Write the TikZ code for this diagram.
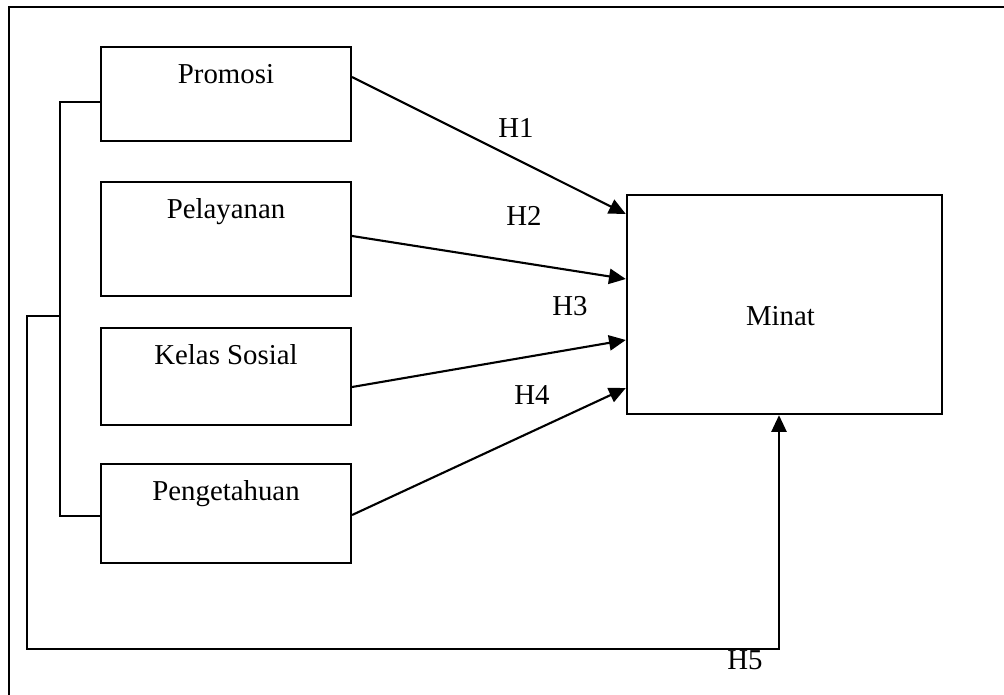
\documentclass[tikz,border=0pt]{standalone}
\usepackage{fontspec}
\setmainfont{Liberation Serif}
\usetikzlibrary{arrows.meta,positioning,calc}
\tikzset{varbox/.style = {draw=black, line width=1.5pt, minimum width=6.25cm, inner sep=0pt}}
\tikzset{boxtext/.style = {anchor=base, font=\fontsize{20.5}{24}\selectfont}}
\tikzset{line/.style = {draw=black, line width=1.5pt}}
\tikzset{arrow/.style = {line, -{Triangle[length=0.42cm,width=0.38cm]}}}

\begin{document}
\begin{tikzpicture}[x=0.025cm, y=-0.025cm]
	\useasboundingbox (0,0) rectangle (1004,695);
	% frame
	\draw[line] (9,695) -- (9,7) -- (1004,7);
	% variables
	\node[varbox, minimum height=2.35cm, label={[boxtext, yshift=-0.95cm]north:Promosi}] (promosi) at (226,94) {};
	\node[varbox, minimum height=2.85cm, label={[boxtext, yshift=-0.93cm]north:Pelayanan}] (pelayanan) at (226,239) {};
	\node[varbox, minimum height=2.43cm, label={[boxtext, yshift=-0.93cm]north:Kelas Sosial}] (kelas) at (226,376.5) {};
	\node[varbox, minimum height=2.48cm, label={[boxtext, yshift=-0.95cm]north:Pengetahuan}] (pengetahuan) at (226,513.5) {};
	\node[varbox, minimum width=7.88cm, minimum height=5.48cm, label={[boxtext, xshift=-0.1cm, yshift=-3.28cm]north:Minat}] (minat) at (784.5,304.5) {};
	% hypotheses
	\draw[arrow] (promosi.east |- 0,77) -- (minat.west |- 0,214);
	\draw[arrow] (pelayanan.east |- 0,236) -- (minat.west |- 0,279);
	\draw[arrow] (kelas.east |- 0,387) -- (minat.west |- 0,340);
	\draw[arrow] (pengetahuan.east |- 0,515) -- (minat.west |- 0,388);
	\node[boxtext] (h1) at (516,138) {H1};
	\node[boxtext] (h2) at (524,226) {H2};
	\node[boxtext] (h3) at (570,315) {H3};
	\node[boxtext] (h4) at (532,404) {H4};
	\node[boxtext] (h5) at (745,669) {H5};
	% simultaneous
	\coordinate (brk) at (60,316);
	\draw[line] (promosi.west |- 0,102) -| (brk) |- (pengetahuan.west |- 0,516);
	\draw[arrow] (brk) -- (27,316) |- (779,649) -- (minat.south -| 779,0);
\end{tikzpicture}
\end{document}
